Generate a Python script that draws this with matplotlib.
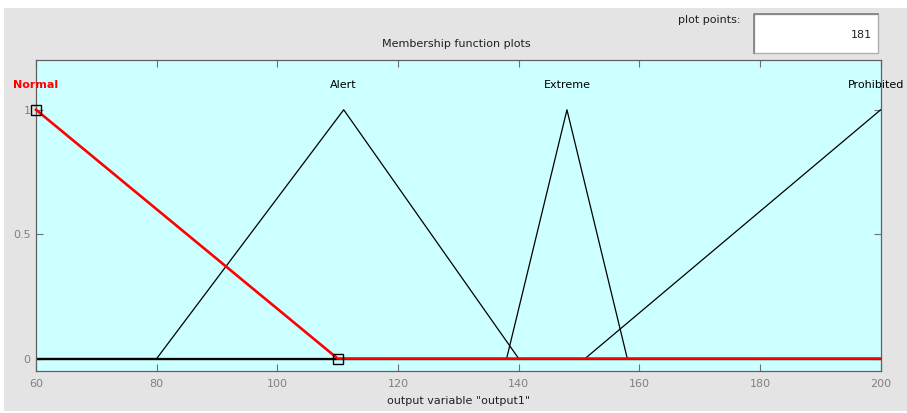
import matplotlib
matplotlib.use("Agg")
import matplotlib.pyplot as plt
from matplotlib.patches import Rectangle
from matplotlib.lines import Line2D

# ---- data ----
mf_names = ["Normal", "Alert", "Extreme", "Prohibited"]
normal_x = [60, 110, 200]
normal_y = [1, 0, 0]
alert_x = [60, 80, 111, 140, 200]
alert_y = [0, 0, 1, 0, 0]
extreme_x = [60, 138, 148, 158, 200]
extreme_y = [0, 0, 1, 0, 0]
prohibited_x = [60, 151, 200]
prohibited_y = [0, 0, 1]
label_x = [60, 111, 148, 199.2]
xticks = [60, 80, 100, 120, 140, 160, 180, 200]
yticks = [0, 0.5, 1]
ytick_labels = ["0", "0.5", "1"]
plot_points = "181"

W, H = 907, 413
fig = plt.figure(figsize=(W / 100, H / 100), dpi=100)
fig.patch.set_facecolor("white")
# gray panel
fig.patches.append(Rectangle((4 / W, 2 / H), (W - 4) / W, (H - 10) / H,
                             transform=fig.transFigure, facecolor="#e4e4e4",
                             edgecolor="none", zorder=-10))

ax = fig.add_axes([36 / W, 42 / H, 844.7 / W, 311 / H])
ax.set_zorder(5)
ax.set_facecolor("#ccffff")
ax.set_xlim(60, 200)
ax.set_ylim(-0.05, 1.2)

ax.plot(alert_x, alert_y, color="black", lw=0.9, zorder=2)
ax.plot(extreme_x, extreme_y, color="black", lw=0.9, zorder=2)
ax.plot(prohibited_x, prohibited_y, color="black", lw=0.9, zorder=2)
ax.plot([60, 200], [0, 0], color="black", lw=1.0, zorder=2)
ax.plot(normal_x, normal_y, color="#ff0000", lw=1.9, zorder=3, clip_on=False)
ax.plot([normal_x[0], normal_x[1]], [normal_y[0], normal_y[1]], ls="none",
        marker="s", ms=7, mfc="none", mec="black", mew=1.0, zorder=4, clip_on=False)

colors = ["#ff0000", "black", "black", "black"]
weights = ["bold", "normal", "normal", "normal"]
for name, x, c, w in zip(mf_names, label_x, colors, weights):
    ax.text(x, 1.1, name, color=c, fontweight=w, fontsize=8, ha="center",
            va="center", clip_on=False)

ax.set_xticks(xticks)
ax.set_yticks(yticks)
ax.set_yticklabels(ytick_labels)
ax.tick_params(direction="in", length=5, width=0.8, color="#707070",
               labelcolor="#808080", labelsize=8, top=True, right=True)
ax.tick_params(axis="x", pad=6)
ax.tick_params(axis="y", pad=4)
for s in ax.spines.values():
    s.set_color("#606060")
    s.set_linewidth(0.9)

ax.set_xlabel('output variable "output1"', fontsize=8, color="#202020", labelpad=5)
fig.text(456 / W, 1 - 44 / H, "Membership function plots", fontsize=8,
         color="#202020", ha="center", va="center")

# plot points box
fig.text(740 / W, 1 - 20 / H, "plot points:", fontsize=8, color="#202020",
         ha="right", va="center")
fig.patches.append(Rectangle((754 / W, 1 - 53 / H), 124 / W, 39 / H,
                             transform=fig.transFigure, facecolor="white",
                             edgecolor="#b0b0b0", lw=1.0, zorder=1))
fig.lines.append(Line2D([754 / W, 754 / W, 878 / W], [1 - 53 / H, 1 - 14 / H, 1 - 14 / H],
                        transform=fig.transFigure, color="#808080", lw=1.2))
fig.text(872 / W, 1 - 35 / H, plot_points, fontsize=8, color="#202020",
         ha="right", va="center")

fig.savefig("out.png", dpi=100, facecolor=fig.get_facecolor())
